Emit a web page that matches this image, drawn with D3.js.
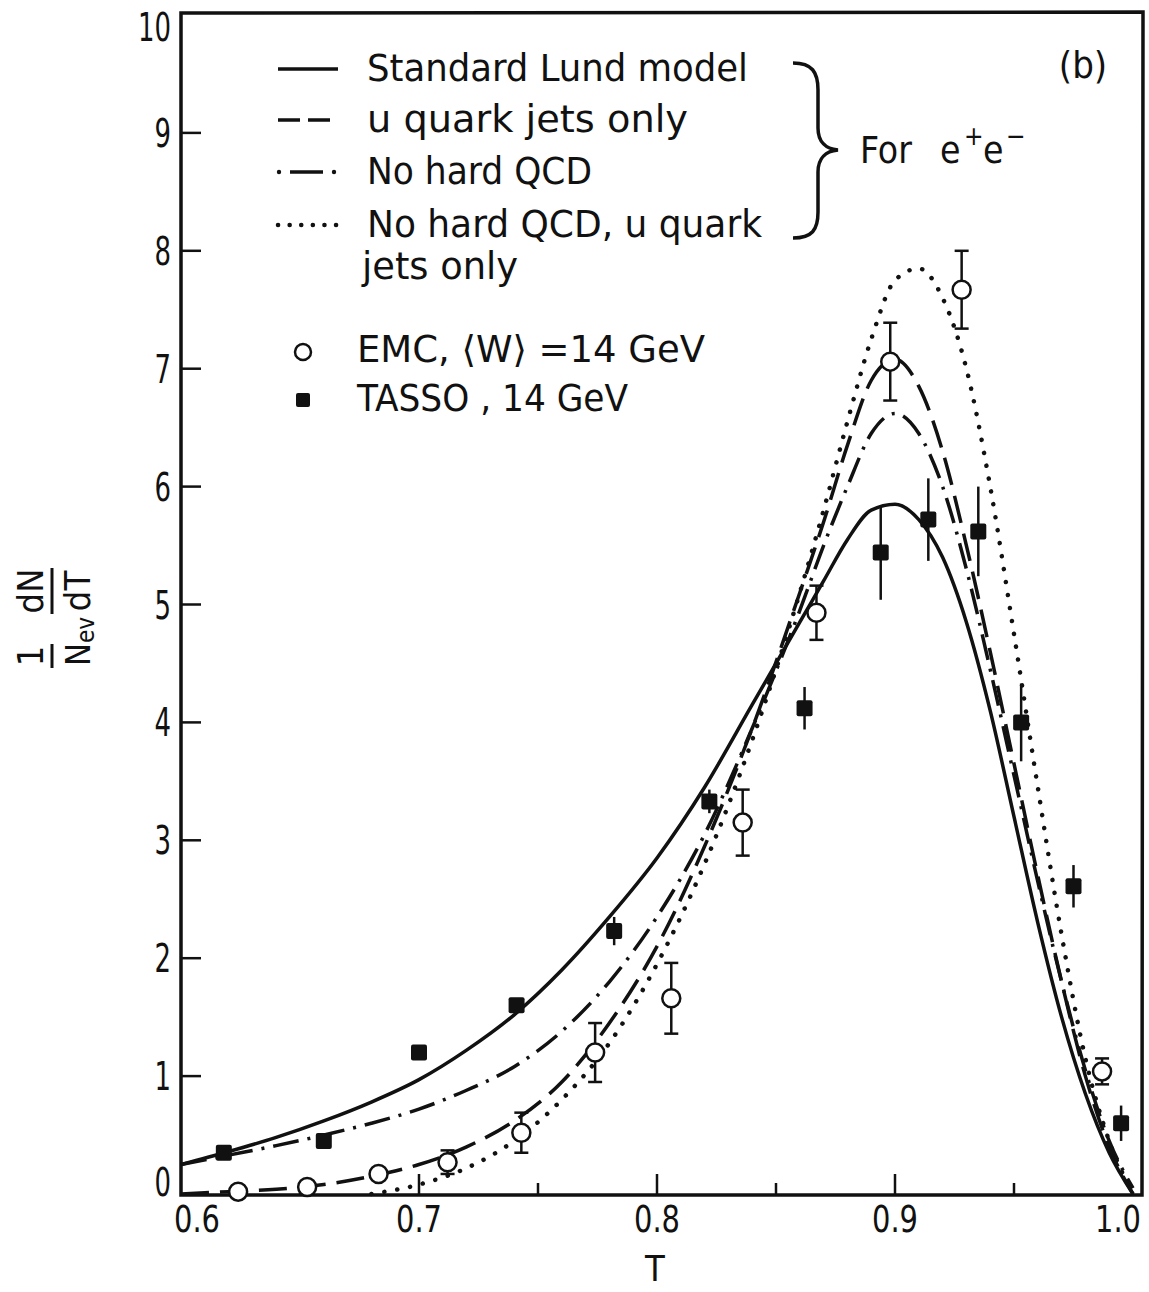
<!DOCTYPE html>
<html>
<head>
<meta charset="utf-8">
<script src="https://cdn.jsdelivr.net/npm/d3@7"></script>
<style>
  body { margin: 0; background: #fff; }
  svg { display: block; }
  text { font-family: 'DejaVu Sans', sans-serif; font-stretch: condensed; fill: #111; }
</style>
</head>
<body>
<div id="chart"></div>
<script>
// T grid shared by the four model curves
const tGrid = [0.60, 0.62, 0.64, 0.66, 0.68, 0.70, 0.72, 0.74, 0.76, 0.78, 0.80, 0.82, 0.84, 0.86,
  0.87, 0.88, 0.89, 0.90, 0.91, 0.92, 0.93, 0.94, 0.95, 0.96, 0.97, 0.98, 0.99, 1.00];
const lund      = [0.25, 0.36, 0.48, 0.62, 0.78, 0.97, 1.22, 1.52, 1.90, 2.35, 2.85, 3.45, 4.15, 4.85,
  5.20, 5.55, 5.80, 5.85, 5.72, 5.40, 4.85, 4.10, 3.20, 2.30, 1.50, 0.85, 0.35, 0.00];
const uOnly     = [0.00, 0.02, 0.04, 0.08, 0.15, 0.25, 0.40, 0.62, 0.95, 1.45, 2.10, 2.95, 3.95, 5.10,
  5.70, 6.35, 6.90, 7.08, 6.85, 6.30, 5.50, 4.60, 3.65, 2.70, 1.80, 1.00, 0.40, 0.00];
const noQcd     = [0.25, 0.33, 0.41, 0.50, 0.60, 0.72, 0.88, 1.08, 1.38, 1.80, 2.35, 3.05, 3.95, 4.95,
  5.50, 6.00, 6.45, 6.62, 6.45, 6.00, 5.30, 4.45, 3.55, 2.65, 1.80, 1.05, 0.45, 0.05];
const noQcdU    = [null, null, null, null, 0.00, 0.08, 0.22, 0.45, 0.80, 1.28, 1.95, 2.80, 3.85, 5.10,
  5.80, 6.55, 7.25, 7.75, 7.85, 7.60, 7.00, 6.00, 4.75, 3.45, 2.20, 1.15, 0.45, 0.00];

// EMC, <W> = 14 GeV (open circles)
const emcT   = [0.624, 0.653, 0.683, 0.712, 0.743, 0.774, 0.806, 0.836, 0.867, 0.898, 0.928, 0.987];
const emcY   = [0.02, 0.06, 0.17, 0.27, 0.52, 1.20, 1.66, 3.15, 4.93, 7.06, 7.67, 1.04];
const emcErr = [0, 0, 0, 0.10, 0.17, 0.25, 0.30, 0.28, 0.23, 0.33, 0.33, 0.11];

// TASSO, 14 GeV (filled squares)
const tassoT   = [0.618, 0.660, 0.700, 0.741, 0.782, 0.822, 0.862, 0.894, 0.914, 0.935, 0.953, 0.975, 0.995];
const tassoY   = [0.35, 0.45, 1.20, 1.60, 2.23, 3.33, 4.12, 5.44, 5.72, 5.62, 4.00, 2.61, 0.60];
const tassoErr = [0, 0, 0, 0, 0.12, 0.10, 0.18, 0.40, 0.35, 0.38, 0.33, 0.18, 0.15];

const yTicks = [0, 1, 2, 3, 4, 5, 6, 7, 8, 9, 10];
const xMajor = [0.6, 0.7, 0.8, 0.9, 1.0];
const xMinor = [0.65, 0.75, 0.85, 0.95];

const legendLines = [
  {name: 'Standard Lund model', dash: null},
  {name: 'u quark jets only', dash: '22 8'},
  {name: 'No hard QCD', dash: 'dashdot'},
  {name: 'No hard QCD, u quark', dash: 'dot'}
];

const width = 1149, height = 1292;
const x = d3.scaleLinear().domain([0.6, 1.0]).range([181, 1133]);
const y = d3.scaleLinear().domain([0, 10]).range([1194, 15]);

const svg = d3.select('#chart').append('svg')
  .attr('width', width).attr('height', height)
  .attr('viewBox', [0, 0, width, height]);

const ink = '#111';

// frame
svg.append('path')
  .attr('d', `M181,13 L1143,12 L1142,1195 L181,1195 Z`)
  .attr('fill', 'none').attr('stroke', ink).attr('stroke-width', 3.5);

// y ticks, pointing inward
svg.append('g').selectAll('line')
  .data(yTicks.filter(d => d > 0 && d < 10))
  .join('line')
  .attr('x1', 181).attr('x2', 201)
  .attr('y1', d => y(d)).attr('y2', d => y(d))
  .attr('stroke', ink).attr('stroke-width', 2.5);

svg.append('g').selectAll('text')
  .data(yTicks)
  .join('text')
  .attr('x', 171)
  .attr('y', d => y(d) + (d === 0 ? -12 : d === 10 ? 12 : 0))
  .attr('dy', '0.36em')
  .attr('text-anchor', 'end')
  .attr('font-size', 39)
  .attr('textLength', d => String(d).length * 16.5)
  .attr('lengthAdjust', 'spacingAndGlyphs')
  .text(d => d);

// x ticks
svg.append('g').selectAll('line')
  .data(xMajor.slice(1, 4))
  .join('line')
  .attr('x1', d => x(d)).attr('x2', d => x(d))
  .attr('y1', 1195).attr('y2', 1174)
  .attr('stroke', ink).attr('stroke-width', 2.5);
svg.append('g').selectAll('line')
  .data(xMinor)
  .join('line')
  .attr('x1', d => x(d)).attr('x2', d => x(d))
  .attr('y1', 1195).attr('y2', 1183)
  .attr('stroke', ink).attr('stroke-width', 2.5);

svg.append('g').selectAll('text')
  .data(xMajor)
  .join('text')
  .attr('x', d => x(d) + (d === 0.6 ? 16 : d === 1.0 ? -15 : 0))
  .attr('y', 1232)
  .attr('text-anchor', 'middle')
  .attr('font-size', 37)
  .attr('textLength', 46)
  .attr('lengthAdjust', 'spacingAndGlyphs')
  .text(d => d3.format('.1f')(d));

svg.append('text')
  .attr('x', 655).attr('y', 1281)
  .attr('text-anchor', 'middle')
  .attr('font-size', 36)
  .text('T');

// y axis title: 1/N_ev dN/dT, rotated
const yt = svg.append('g').attr('transform', 'translate(52,668) rotate(-90)');
yt.append('text').attr('x', 12).attr('y', -9).attr('text-anchor', 'middle').attr('font-size', 36).text('1');
yt.append('text').attr('x', 2).attr('y', 38).attr('font-size', 34)
  .text('N')
  .append('tspan').attr('font-size', 24).attr('dy', 4).text('ev');
yt.append('text').attr('x', 77).attr('y', -9).attr('text-anchor', 'middle').attr('font-size', 36).text('dN');
yt.append('text').attr('x', 77).attr('y', 38).attr('text-anchor', 'middle').attr('font-size', 36).text('dT');
yt.append('line').attr('x1', 0).attr('x2', 24).attr('y1', 0).attr('y2', 0).attr('stroke', ink).attr('stroke-width', 3);
yt.append('line').attr('x1', 54).attr('x2', 100).attr('y1', 0).attr('y2', 0).attr('stroke', ink).attr('stroke-width', 3);

// model curves
const line = d3.line()
  .defined(d => d[1] !== null)
  .x(d => x(d[0])).y(d => y(d[1]))
  .curve(d3.curveMonotoneX);

function styleCurve(sel, kind) {
  sel.attr('fill', 'none').attr('stroke', ink).attr('stroke-width', 3.5);
  if (kind === 'dash') sel.attr('stroke-dasharray', '28 11');
  if (kind === 'dashdot') sel.attr('stroke-dasharray', '26 9 3 9');
  if (kind === 'dot') sel.attr('stroke-dasharray', '0.1 13').attr('stroke-linecap', 'round').attr('stroke-width', 4.5);
  return sel;
}

const series = [
  {vals: lund, kind: 'solid'},
  {vals: uOnly, kind: 'dash'},
  {vals: noQcd, kind: 'dashdot'},
  {vals: noQcdU, kind: 'dot'}
];
series.forEach(s => {
  svg.append('path')
    .datum(tGrid.map((t, i) => [t, s.vals[i]]))
    .attr('d', line)
    .call(styleCurve, s.kind);
});

// TASSO error bars + squares
svg.append('g').selectAll('line')
  .data(tassoT.map((t, i) => ({t, v: tassoY[i], e: tassoErr[i]})).filter(d => d.e > 0))
  .join('line')
  .attr('x1', d => x(d.t)).attr('x2', d => x(d.t))
  .attr('y1', d => y(d.v - d.e)).attr('y2', d => y(d.v + d.e))
  .attr('stroke', ink).attr('stroke-width', 2.5);
svg.append('g').selectAll('rect')
  .data(tassoT.map((t, i) => ({t, v: tassoY[i]})))
  .join('rect')
  .attr('x', d => x(d.t) - 8).attr('y', d => y(d.v) - 8)
  .attr('width', 16).attr('height', 16).attr('rx', 2)
  .attr('fill', ink);

// EMC error bars with caps + open circles
const emcData = emcT.map((t, i) => ({t, v: emcY[i], e: emcErr[i]}));
const eb = svg.append('g').selectAll('g')
  .data(emcData.filter(d => d.e > 0))
  .join('g')
  .attr('stroke', ink).attr('stroke-width', 2.5);
eb.append('line')
  .attr('x1', d => x(d.t)).attr('x2', d => x(d.t))
  .attr('y1', d => y(d.v - d.e)).attr('y2', d => y(d.v + d.e));
eb.append('line')
  .attr('x1', d => x(d.t) - 7).attr('x2', d => x(d.t) + 7)
  .attr('y1', d => y(d.v - d.e)).attr('y2', d => y(d.v - d.e));
eb.append('line')
  .attr('x1', d => x(d.t) - 7).attr('x2', d => x(d.t) + 7)
  .attr('y1', d => y(d.v + d.e)).attr('y2', d => y(d.v + d.e));
svg.append('g').selectAll('circle')
  .data(emcData)
  .join('circle')
  .attr('cx', d => x(d.t)).attr('cy', d => y(d.v)).attr('r', 9)
  .attr('fill', '#fff').attr('stroke', ink).attr('stroke-width', 2.5);

// legend: line samples
const legRows = [69, 120, 172, 225];
const legWidths = [381, 321, 225, 395];
legendLines.forEach((l, i) => {
  const yy = legRows[i];
  if (l.dash === 'dashdot') {
    svg.append('circle').attr('cx', 279).attr('cy', yy).attr('r', 2.2).attr('fill', ink);
    svg.append('line').attr('x1', 290).attr('x2', 323).attr('y1', yy).attr('y2', yy)
      .attr('stroke', ink).attr('stroke-width', 3.5);
    svg.append('circle').attr('cx', 334).attr('cy', yy).attr('r', 2.2).attr('fill', ink);
  } else {
    const ln = svg.append('line').attr('x1', 278).attr('x2', 338).attr('y1', yy).attr('y2', yy)
      .attr('stroke', ink).attr('stroke-width', 3.5);
    if (l.dash === 'dot') ln.attr('stroke-dasharray', '0.1 11.5').attr('stroke-linecap', 'round').attr('stroke-width', 4.5);
    else if (l.dash) ln.attr('stroke-dasharray', l.dash);
  }
  svg.append('text')
    .attr('x', 367).attr('y', yy + 12)
    .attr('font-size', 37)
    .attr('textLength', legWidths[i]).attr('lengthAdjust', 'spacingAndGlyphs')
    .text(l.name);
});
svg.append('text')
  .attr('x', 362).attr('y', 279)
  .attr('font-size', 37)
  .attr('textLength', 156).attr('lengthAdjust', 'spacingAndGlyphs')
  .text('jets only');

// brace and "For e+e-"
svg.append('path')
  .attr('d', 'M793,63 C812,63 818,72 818,90 L818,128 C818,142 826,149 838,150 C826,151 818,158 818,172 L818,212 C818,230 812,238 793,238')
  .attr('fill', 'none').attr('stroke', ink).attr('stroke-width', 3.5);
svg.append('text').attr('x', 860).attr('y', 163).attr('font-size', 37).text('For');
svg.append('text').attr('x', 940).attr('y', 163).attr('font-size', 37).text('e');
svg.append('text').attr('x', 964).attr('y', 145).attr('font-size', 26).text('+');
svg.append('text').attr('x', 983).attr('y', 163).attr('font-size', 37).text('e');
svg.append('text').attr('x', 1006).attr('y', 145).attr('font-size', 26).text('−');

svg.append('text').attr('x', 1083).attr('y', 78).attr('text-anchor', 'middle').attr('font-size', 38).text('(b)');

// data legend
svg.append('circle').attr('cx', 303).attr('cy', 352).attr('r', 8)
  .attr('fill', '#fff').attr('stroke', ink).attr('stroke-width', 2.5);
svg.append('text').attr('x', 357).attr('y', 362).attr('font-size', 37)
  .attr('textLength', 348).attr('lengthAdjust', 'spacingAndGlyphs')
  .text('EMC, ⟨W⟩ =14 GeV');
svg.append('rect').attr('x', 296).attr('y', 393).attr('width', 14).attr('height', 14).attr('rx', 2).attr('fill', ink);
svg.append('text').attr('x', 357).attr('y', 411).attr('font-size', 37)
  .attr('textLength', 271).attr('lengthAdjust', 'spacingAndGlyphs')
  .text('TASSO , 14 GeV');
</script>
</body>
</html>
